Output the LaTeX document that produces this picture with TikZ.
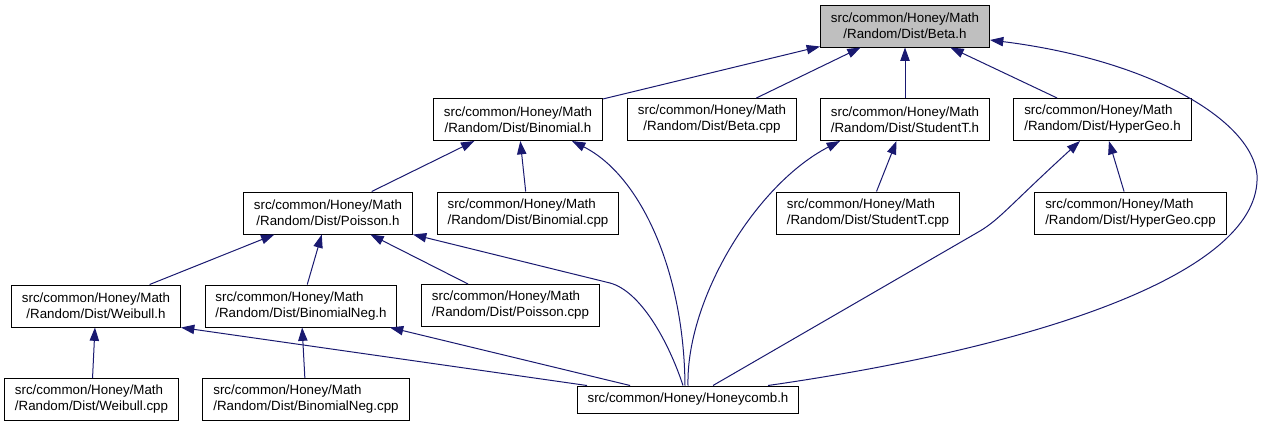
\documentclass[tikz,border=0pt]{standalone}
\usepackage{fontspec}
\setmainfont{Liberation Sans}
\usetikzlibrary{arrows.meta}
\definecolor{edgeblue}{RGB}{25,25,112}
\definecolor{focusgray}{RGB}{191,191,191}

\begin{document}
\begin{tikzpicture}[
    x=0.75pt, y=-0.75pt,
    font=\fontsize{10}{12}\selectfont,
    box/.style={rectangle, draw=black, line width=0.75pt, fill=white, inner xsep=7.8pt, inner ysep=2pt, minimum height=31.5pt, align=center},
    focus/.style={box, fill=focusgray},
    arrow/.style={-{Triangle[length=10pt, width=7pt]}, draw=edgeblue, line width=0.75pt}
]
\useasboundingbox (0,0) rectangle (1261,429);

\node[focus] (beta) at (905,26) {src/common/Honey/Math\\/Random/Dist/Beta.h};
\node[box] (binom) at (518,119.5) {src/common/Honey/Math\\/Random/Dist/Binomial.h};
\node[box] (betacpp) at (712,119.5) {src/common/Honey/Math\\/Random/Dist/Beta.cpp};
\node[box, align=left] (studt) at (905,119.5) {src/common/Honey/Math\\/Random/Dist/StudentT.h};
\node[box, align=left] (hyper) at (1102.5,119.5) {src/common/Honey/Math\\/Random/Dist/HyperGeo.h};
\node[box] (poisson) at (328,213) {src/common/Honey/Math\\/Random/Dist/Poisson.h};
\node[box, align=left] (binomcpp) at (528,213) {src/common/Honey/Math\\/Random/Dist/Binomial.cpp};
\node[box, align=left] (studcpp) at (868,213) {src/common/Honey/Math\\/Random/Dist/StudentT.cpp};
\node[box, align=left] (hypercpp) at (1130.5,213) {src/common/Honey/Math\\/Random/Dist/HyperGeo.cpp};
\node[box] (weib) at (96,306) {src/common/Honey/Math\\/Random/Dist/Weibull.h};
\node[box, align=left] (bneg) at (301,306) {src/common/Honey/Math\\/Random/Dist/BinomialNeg.h};
\node[box, align=left] (poiscpp) at (510.5,305.5) {src/common/Honey/Math\\/Random/Dist/Poisson.cpp};
\node[box, align=left] (weibcpp) at (91.5,399.5) {src/common/Honey/Math\\/Random/Dist/Weibull.cpp};
\node[box, align=left] (bnegcpp) at (306,399.5) {src/common/Honey/Math\\/Random/Dist/BinomialNeg.cpp};
\node[box, minimum height=20.25pt] (honey) at (688,399.5) {src/common/Honey/Honeycomb.h};

\draw[arrow] (binom) -- (beta);
\draw[arrow] (betacpp) -- (beta);
\draw[arrow] (studt) -- (beta);
\draw[arrow] (hyper) -- (beta);
\draw[arrow] (poisson) -- (binom);
\draw[arrow] (binomcpp) -- (binom);
\draw[arrow] (studcpp) -- (studt);
\draw[arrow] (hypercpp) -- (hyper);
\draw[arrow] (weib) -- (poisson);
\draw[arrow] (bneg) -- (poisson);
\draw[arrow] (poiscpp) -- (poisson);
\draw[arrow] (weibcpp) -- (weib);
\draw[arrow] (bnegcpp) -- (bneg);

% edges into Honeycomb.h
\draw[arrow] ([shift={(-101,0)}]honey.north) -- (weib.south east);
\draw[arrow] (honey) -- (bneg);
\draw[arrow] ([shift={(-5,0)}]honey.north) .. controls (668,340) and (640,291) .. (610,283) -- (poisson.south east);
\draw[arrow] ([shift={(-3,0)}]honey.north) .. controls (684,270) and (640,175) .. ([shift={(54,0)}]binom.south);
\draw[arrow] (honey.north) .. controls (686,300) and (755,185) .. ([shift={(-65,0)}]studt.south);
\draw[arrow] ([shift={(25,0)}]honey.north) -- (980,231) .. controls (1000,219) and (1010,205) .. ([shift={(-22.5,0)}]hyper.south);
\draw[arrow] ([shift={(80,0)}]honey.north) .. controls (1050,345) and (1262,270) .. (1257,175)
    .. controls (1252,120) and (1150,60) .. ([shift={(0,14)}]beta.east);
\end{tikzpicture}
\end{document}
